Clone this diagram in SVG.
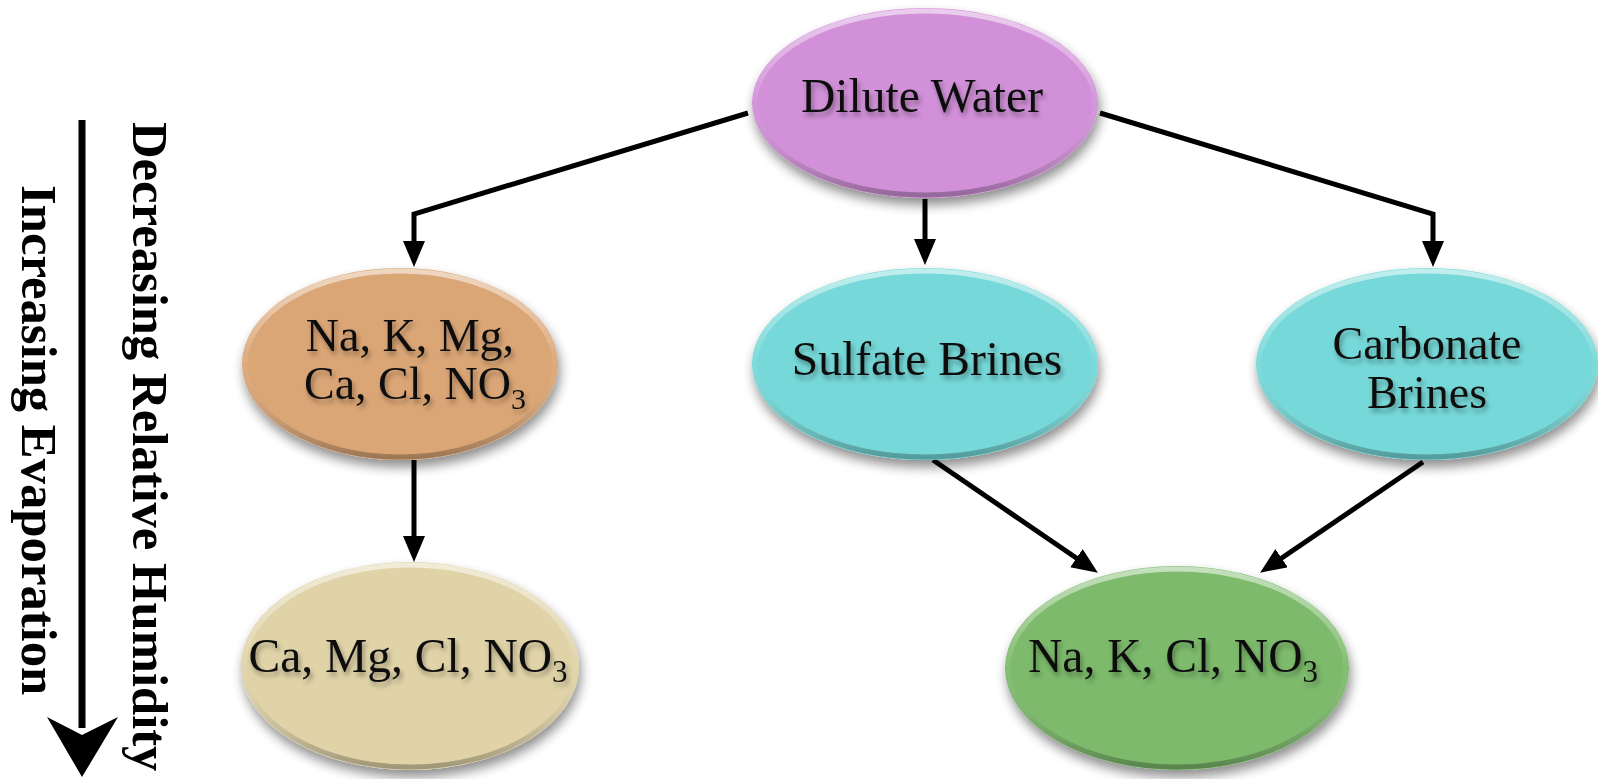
<svg xmlns="http://www.w3.org/2000/svg" width="1598" height="779" viewBox="0 0 1598 779">
<defs>
<style>
.lbl{font-family:"Liberation Serif","Times New Roman",serif;font-size:47.5px;fill:#111;text-anchor:middle}
.two{font-size:46px}
.side{font-family:"Liberation Serif","Times New Roman",serif;font-size:50.7px;font-weight:bold;fill:#000}
.conn{fill:none;stroke:#000;stroke-width:5;stroke-linejoin:miter}
.node{filter:url(#shadow)}
.rim{fill:none;stroke:url(#rimg);stroke-width:5}
.txt{filter:url(#tshadow)}
</style>
<filter id="shadow" x="-20%" y="-20%" width="140%" height="150%">
<feGaussianBlur in="SourceAlpha" stdDeviation="6"/>
<feOffset dx="2" dy="7" result="b"/>
<feComponentTransfer><feFuncA type="linear" slope="0.45"/></feComponentTransfer>
<feMerge><feMergeNode/><feMergeNode in="SourceGraphic"/></feMerge>
</filter>
<filter id="tshadow" x="-10%" y="-30%" width="120%" height="180%">
<feGaussianBlur in="SourceAlpha" stdDeviation="2.5"/>
<feOffset dx="2" dy="4"/>
<feComponentTransfer><feFuncA type="linear" slope="0.35"/></feComponentTransfer>
<feMerge><feMergeNode/><feMergeNode in="SourceGraphic"/></feMerge>
</filter>
<linearGradient id="rimg" x1="0" y1="0" x2="0" y2="1">
<stop offset="0" stop-color="#fff" stop-opacity="0.55"/>
<stop offset="0.5" stop-color="#fff" stop-opacity="0.05"/>
<stop offset="1" stop-color="#000" stop-opacity="0.28"/>
</linearGradient>
<marker id="ah" markerUnits="userSpaceOnUse" markerWidth="28" markerHeight="24" refX="14" refY="11" orient="auto">
<path d="M0,0 L26,11 L0,22 z" fill="#000"/>
</marker>
</defs>
<rect width="1598" height="779" fill="#fff"/>

<g id="connectors">
<path class="conn" d="M748,113 L414,214 L414,255" marker-end="url(#ah)"/>
<path class="conn" d="M925,199 L925,253" marker-end="url(#ah)"/>
<path class="conn" d="M1100,113 L1433,214 L1433,255" marker-end="url(#ah)"/>
<path class="conn" d="M414,460 L414,550" marker-end="url(#ah)"/>
<path class="conn" d="M933,460 L1088,566" marker-end="url(#ah)"/>
<path class="conn" d="M1423,462 L1270,566" marker-end="url(#ah)"/>
</g>

<g id="axis">
<line x1="82" y1="120" x2="82" y2="728" stroke="#000" stroke-width="7"/>
<polygon points="47,717 82,735 118,717 82,777" fill="#000"/>
<text class="side" transform="translate(133,122) rotate(90)">Decreasing Relative Humidity</text>
<text class="side" transform="translate(22,185) rotate(90)">Increasing Evaporation</text>
</g>

<g id="dilute">
<ellipse class="node" cx="925" cy="103" rx="173" ry="95" fill="#d190d8"/>
<ellipse class="rim" cx="925" cy="103" rx="170" ry="92"/>
<text class="lbl txt" x="922" y="112">Dilute Water</text>
</g>

<g id="mixed">
<ellipse class="node" cx="400" cy="364" rx="158" ry="96" fill="#dba676"/>
<ellipse class="rim" cx="400" cy="364" rx="155" ry="93"/>
<text class="lbl two txt" x="410" y="351">Na, K, Mg,</text>
<text class="lbl two txt" x="415" y="399">Ca, Cl, NO<tspan font-size="30" dy="10">3</tspan></text>
</g>

<g id="sulfate">
<ellipse class="node" cx="925" cy="364" rx="173" ry="96" fill="#76d8d8"/>
<ellipse class="rim" cx="925" cy="364" rx="170" ry="93"/>
<text class="lbl txt" x="927" y="375">Sulfate Brines</text>
</g>

<g id="carbonate">
<ellipse class="node" cx="1427" cy="364" rx="171" ry="96" fill="#76d8d8"/>
<ellipse class="rim" cx="1427" cy="364" rx="168" ry="93"/>
<text class="lbl two txt" x="1427" y="359">Carbonate</text>
<text class="lbl two txt" x="1427" y="408">Brines</text>
</g>

<g id="camg">
<ellipse class="node" cx="410" cy="666" rx="169" ry="104" fill="#e0d3a8"/>
<ellipse class="rim" cx="410" cy="666" rx="166" ry="101"/>
<text class="lbl txt" x="408" y="672">Ca, Mg, Cl, NO<tspan font-size="31" dy="10">3</tspan></text>
</g>

<g id="nakcl">
<ellipse class="node" cx="1177" cy="668" rx="172" ry="102" fill="#7dba6c"/>
<ellipse class="rim" cx="1177" cy="668" rx="169" ry="99"/>
<text class="lbl txt" x="1173" y="672">Na, K, Cl, NO<tspan font-size="31" dy="10">3</tspan></text>
</g>
</svg>
